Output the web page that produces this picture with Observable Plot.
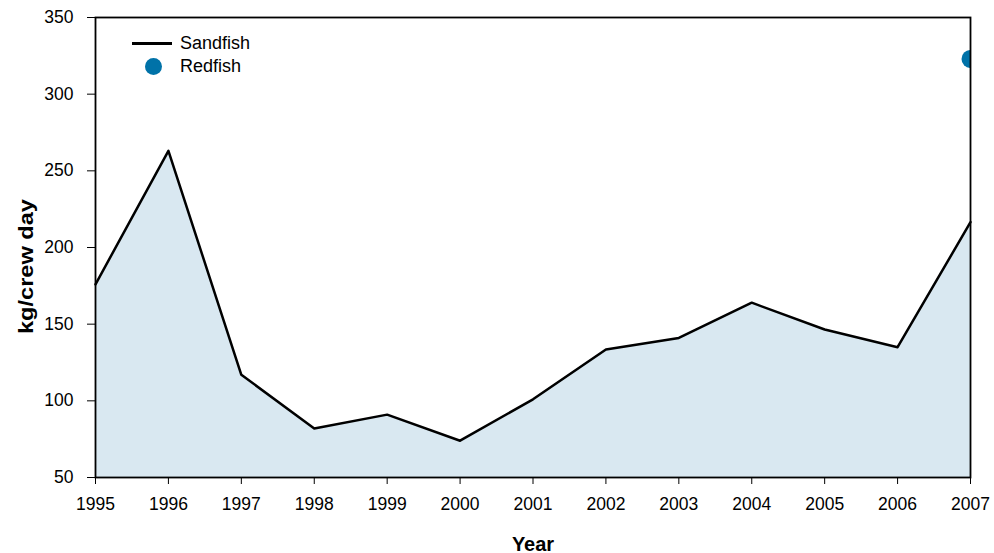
<!DOCTYPE html>
<html>
<head>
<meta charset="utf-8">
<script src="https://cdn.jsdelivr.net/npm/d3@7"></script>
<script src="https://cdn.jsdelivr.net/npm/@observablehq/plot@0.6"></script>
<style>
  html, body { margin: 0; padding: 0; background: #fff; }
  #wrap { position: relative; width: 994px; height: 553px; font-family: "Liberation Sans", Arial, sans-serif; }
  #legend { position: absolute; left: 130px; top: 32px; font-size: 18px; color: #000; }
  #legend .row { display: flex; align-items: center; height: 23px; }
  #legend .sym { width: 44px; display: flex; justify-content: center; align-items: center; margin-right: 6px; }
</style>
</head>
<body>
<div id="wrap">
  <div id="chart"></div>
  <div id="legend">
    <div class="row"><div class="sym"><div style="width:40px;height:2.5px;background:#000"></div></div><span>Sandfish</span></div>
    <div class="row"><div class="sym"><div style="width:17px;height:17px;border-radius:50%;background:#0072A8;margin-left:2px"></div></div><span>Redfish</span></div>
  </div>
</div>
<script>
const years = [1995, 1996, 1997, 1998, 1999, 2000, 2001, 2002, 2003, 2004, 2005, 2006, 2007];
const sandfish = [176, 263, 117, 82, 91, 74, 101, 133.5, 141, 164, 146.5, 135, 216.5];
const redfishYears = [2007];
const redfish = [323];
const yTicks = [50, 100, 150, 200, 250, 300, 350];

const sand = years.map((y, i) => ({year: y, value: sandfish[i]}));
const red = redfishYears.map((y, i) => ({year: y, value: redfish[i]}));

const chart = Plot.plot({
  width: 994,
  height: 553,
  marginLeft: 95,
  marginTop: 17,
  marginRight: 24,
  marginBottom: 76,
  style: {fontFamily: "'Liberation Sans', Arial, sans-serif", fontSize: "17.5px", color: "#000", background: "#fff"},
  x: {domain: [1995, 2007], ticks: years, tickFormat: d => String(d), label: null},
  y: {domain: [50, 350], ticks: yTicks, label: null},
  marks: [
    Plot.areaY(sand, {x: "year", y1: 50, y2: "value", fill: "#d9e8f1"}),
    Plot.lineY(sand, {x: "year", y: "value", stroke: "#000", strokeWidth: 2.5}),
    Plot.dot(red, {x: "year", y: "value", r: 9, fill: "#0072A8", clip: "frame"}),
    Plot.frame({stroke: "#000", strokeWidth: 1.8}),
    Plot.axisX({ticks: years, tickFormat: d => String(d), tickSize: 7, tickPadding: 13, label: null, fontSize: 17.5}),
    Plot.axisY({ticks: yTicks, tickSize: 8, tickPadding: 14, label: null, fontSize: 17.5}),
    Plot.text(["kg/crew day"], {frameAnchor: "left", textAnchor: "middle", lineAnchor: "middle", rotate: -90, dx: -69, dy: 19, fontWeight: "bold", fontSize: 20}),
    Plot.text(["Year"], {frameAnchor: "bottom", textAnchor: "middle", lineAnchor: "bottom", dy: 73, fontWeight: "bold", fontSize: 20})
  ]
});
d3.select(chart).selectAll("text").filter(function() { return this.textContent === "kg/crew day"; })
  .attr("textLength", 135).attr("lengthAdjust", "spacingAndGlyphs");
document.getElementById("chart").appendChild(chart);
</script>
</body>
</html>
